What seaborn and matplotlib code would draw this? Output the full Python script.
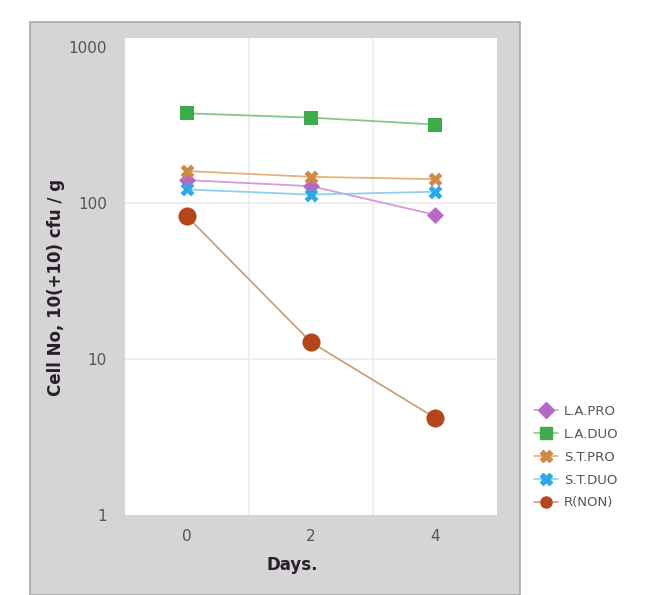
import pandas as pd
import matplotlib
matplotlib.use("Agg")
import matplotlib.pyplot as plt
from matplotlib.lines import Line2D
from matplotlib.patches import Rectangle
import seaborn as sns

# =========================
# DATA
# =========================
days = ["0", "2", "4"]
series = ["L.A.PRO", "L.A.DUO", "S.T.PRO", "S.T.DUO", "R(NON)"]
la_pro = [140, 128, 84]
la_duo = [375, 352, 318]
st_pro = [160, 147, 142]
st_duo = [122, 113, 118]
r_non = [82, 12.8, 4.2]

values = {
    "L.A.PRO": la_pro,
    "L.A.DUO": la_duo,
    "S.T.PRO": st_pro,
    "S.T.DUO": st_duo,
    "R(NON)": r_non,
}

rows = []
for name in series:
    for d, v in zip(days, values[name]):
        rows.append({"day": d, "cells": v, "group": name})
df = pd.DataFrame(rows)

# =========================
# STYLE
# =========================
sns.set_style("white")
plt.rcParams["font.family"] = ["DejaVu Sans"]

marker_colors = {
    "L.A.PRO": "#b569c4",
    "L.A.DUO": "#3aad4a",
    "S.T.PRO": "#cf8a45",
    "S.T.DUO": "#2fa9e4",
    "R(NON)": "#b4461c",
}
line_colors = {
    "L.A.PRO": "#d79ad8",
    "L.A.DUO": "#86c98a",
    "S.T.PRO": "#e6b07e",
    "S.T.DUO": "#8fd0ef",
    "R(NON)": "#c9a27a",
}
markers = {
    "L.A.PRO": "D",
    "L.A.DUO": "s",
    "S.T.PRO": "X",
    "S.T.DUO": "X",
    "R(NON)": "o",
}
sizes = {"L.A.PRO": 75, "L.A.DUO": 110, "S.T.PRO": 100, "S.T.DUO": 100, "R(NON)": 170}

# =========================
# FIGURE
# =========================
fig = plt.figure(figsize=(6.54, 5.95), dpi=100)
W, H = 654, 595

# gray panel behind the plot
fig.patches.append(Rectangle((30 / W, 0), (520 - 30) / W, 1 - 22 / H,
                             transform=fig.transFigure, facecolor="#d5d5d5",
                             edgecolor="#a8a8a8", linewidth=1.2, zorder=-10))

ax = fig.add_axes([125 / W, 1 - 515 / H, (497 - 125) / W, (515 - 38) / H])
ax.set_zorder(5)
ax.set_facecolor("white")

sns.lineplot(data=df, x="day", y="cells", hue="group", palette=line_colors,
             sort=False, linewidth=1.3, legend=False, ax=ax)
for name in series:
    sub = df[df["group"] == name]
    sns.scatterplot(data=sub, x="day", y="cells", color=marker_colors[name],
                    marker=markers[name], s=sizes[name], linewidth=0,
                    legend=False, ax=ax, zorder=3)

ax.set_yscale("log")
ax.set_ylim(1, 1140)
ax.set_xlim(-0.5, 2.5)
ax.set_yticks([1, 10, 100, 1000])
ax.set_yticklabels(["1", "10", "100", "1000"])
ax.minorticks_off()
ax.tick_params(axis="both", length=0, labelsize=11, labelcolor="#555555")
ax.tick_params(axis="y", pad=13)
ax.tick_params(axis="x", pad=10)

for v in [10, 100]:
    ax.axhline(v, color="#ececec", linewidth=1.2, zorder=0)
for v in [0.5, 1.5]:
    ax.axvline(v, color="#ececec", linewidth=1.2, zorder=0)
for s in ax.spines.values():
    s.set_visible(False)

ax.set_xlabel("Days.", fontsize=12, fontweight="bold", color="#2b1d2b")
ax.xaxis.set_label_coords(0.45, -0.085)
ax.set_ylabel("Cell No, 10(+10) cfu / g", fontsize=12, fontweight="bold",
              color="#2b1d2b")
ax.yaxis.set_label_coords(-0.16, 0.478)

handles = [Line2D([0], [0], color=line_colors[n], marker=markers[n],
                  markerfacecolor=marker_colors[n], markeredgecolor=marker_colors[n],
                  markersize=8, linewidth=1.2, label=n) for n in series]
fig.legend(handles=handles, loc="upper left", bbox_to_anchor=(522 / W, 1 - 393 / H),
           frameon=False, fontsize=9.5, labelcolor="#555555", handlelength=1.8,
           handletextpad=0.5, labelspacing=0.75)

plt.savefig("out.png", dpi=100)
